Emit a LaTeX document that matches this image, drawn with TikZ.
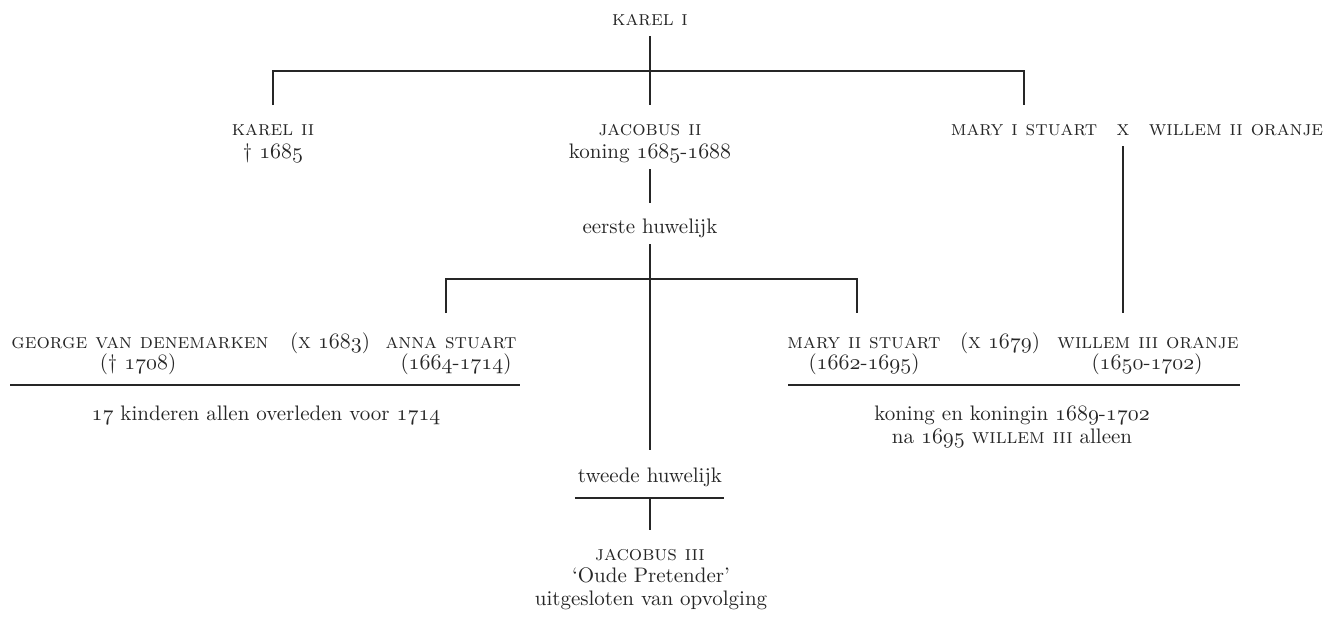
\documentclass[tikz,border=0pt]{standalone}
\usetikzlibrary{calc}
\newcommand\osf[1]{{\fontencoding{OML}\fontfamily{cmm}\fontseries{m}\fontshape{it}\selectfont#1}}
\definecolor{ink}{HTML}{262626}
\begin{document}
\begin{tikzpicture}[x=0.5pt,y=-0.5pt,
  base/.style={inner sep=0pt, outer ysep=3.5pt, outer xsep=0pt, text height=7pt, text depth=2pt,
     text=ink, font=\fontsize{10.5}{12}\selectfont},
  nm/.style={base},
  tx/.style={base},
  ln/.style={draw=ink, line width=0.8pt}]
\useasboundingbox (0,0) rectangle (1326,617);
% generation 1
\node[nm] (k1) at (650,20) {\textsc{karel i}};
% generation 2
\node[nm] (k2)  at (273,130) {\textsc{karel ii}};
\node[tx] (k2d) at (273,153) {\textdagger\ \osf{1685}};
\node[nm] (j2)  at (650,130) {\textsc{jacobus ii}};
\node[tx] (j2d) at (650,153) {koning \osf{1685}-\osf{1688}};
\node[nm] (m1)  at (1024,130) {\textsc{mary i stuart}};
\node[nm] (x1)  at (1123,130) {\textsc{x}};
\node[nm] (w2)  at (1236,130) {\textsc{willem ii oranje}};
\node[tx] (eh)  at (650,228) {eerste huwelijk};
% generation 3, left
\node[nm] (geo)   at (140,343) {\textsc{george van denemarken}};
\node[tx] (x83)   at (330,343) {(\textsc{x} \osf{1683})};
\node[nm] (anna)  at (451,343) {\textsc{anna stuart}};
\node[tx] (geod)  at (138,364) {(\textdagger\ \osf{1708})};
\node[tx] (annad) at (456,364) {(\osf{1664}-\osf{1714})};
\node[tx] (kind)  at (266,415) {\osf{17} kinderen allen overleden voor \osf{1714}};
% generation 3, right
\node[nm] (m2)  at (864,343) {\textsc{mary ii stuart}};
\node[tx] (x79) at (1000,343) {(\textsc{x} \osf{1679})};
\node[nm] (w3)  at (1148,343) {\textsc{willem iii oranje}};
\node[tx] (m2d) at (864,364) {(\osf{1662}-\osf{1695})};
\node[tx] (w3d) at (1147,364) {(\osf{1650}-\osf{1702})};
\node[tx] (kk)  at (1012,415) {koning en koningin \osf{1689}-\osf{1702}};
\node[tx] (na)  at (1012,438) {na \osf{1695} \textsc{willem iii} alleen};
% second marriage
\node[tx] (th)  at (650,477) {tweede huwelijk};
\node[nm] (j3)  at (650,555) {\textsc{jacobus iii}};
\node[tx] (op)  at (651,577) {\textquoteleft Oude Pretender\textquoteright};
\node[tx] (uit) at (651,600) {uitgesloten van opvolging};
% coordinates
\coordinate (b1) at (650,71);
\coordinate (b2) at (650,279);
\coordinate (l1a) at (10,385);
\coordinate (l1b) at (520,385);
\coordinate (l2a) at (788,385);
\coordinate (l2b) at (1240,385);
% connectors
\draw[ln] (k1.south) -- ($(j2.north)+(0,-9)$);
\draw[ln] ($(k2.north)+(0,-9)$) |- (b1) -| ($(m1.north)+(0,-9)$);
\draw[ln] (j2d.south) -- ($(eh.north)+(0,-9)$);
\draw[ln] (eh.south) -- ($(th.north)+(0,-11)$);
\draw[ln] ($(anna.north)+(-5,-14)$) |- (b2) -| ($(m2.north)+(-7,-14)$);
\draw[ln] (x1.south) -- ($(x1.south |- w3.north)+(0,-14)$);
\draw[ln] (l1a) -- (l1b);
\draw[ln] (l2a) -- (l2b);
\coordinate (u) at ($(th.south)+(0,5)$);
\draw[ln] ($(th.south west)+(-3,5)$) -- ($(th.south east)+(2,5)$);
\draw[ln] (u) -- ($(j3.north)+(0,-9)$);
\end{tikzpicture}
\end{document}
